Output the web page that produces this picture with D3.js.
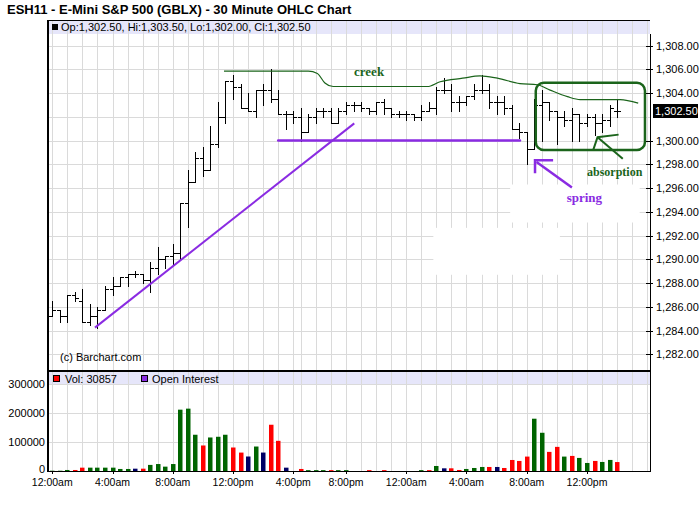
<!DOCTYPE html>
<html>
<head>
<meta charset="utf-8">
<script src="https://cdn.jsdelivr.net/npm/d3@7"></script>
<style>
  body { margin: 0; background: #fff; }
  svg { display: block; font-family: Arial, "Liberation Sans", sans-serif; }
</style>
</head>
<body>
<div class="container"></div>
<script>
// 30 minute OHLC bars
var opens = [1285.25, 1285.75, 1285.25, 1287.00, 1286.50, 1284.75, 1285.25, 1285.75, 1287.50, 1287.75,
    1288.50, 1288.75, 1288.75, 1288.25, 1289.25, 1290.00, 1290.25, 1290.50, 1294.75, 1296.50,
    1298.50, 1297.50, 1299.75, 1302.00, 1305.00, 1304.50, 1302.75, 1302.50, 1304.25, 1304.25,
    1303.50, 1302.25, 1302.25, 1302.00, 1300.75, 1302.00, 1302.50, 1302.50, 1301.50, 1302.50,
    1303.00, 1303.00, 1302.75, 1302.50, 1303.25, 1302.75, 1302.25, 1302.25, 1302.25, 1302.00,
    1302.50, 1302.75, 1304.25, 1304.25, 1303.25, 1303.25, 1303.75, 1304.25, 1304.25, 1303.25,
    1303.25, 1302.75, 1301.00, 1300.75, 1299.25, 1303.00, 1303.25, 1302.50, 1302.00, 1301.75,
    1302.25, 1301.50, 1302.00, 1301.50, 1301.75, 1302.50];
var highs = [1286.50, 1285.75, 1287.00, 1287.25, 1287.50, 1286.25, 1286.00, 1287.75, 1288.50, 1288.50,
    1288.75, 1289.00, 1288.75, 1289.75, 1291.00, 1290.25, 1291.25, 1294.75, 1297.50, 1299.00,
    1299.50, 1301.25, 1303.25, 1305.00, 1305.50, 1304.75, 1304.00, 1304.25, 1304.75, 1306.00,
    1304.25, 1302.50, 1302.50, 1302.75, 1302.25, 1302.75, 1302.75, 1302.75, 1302.75, 1303.25,
    1303.25, 1303.25, 1302.75, 1303.25, 1303.50, 1302.75, 1302.50, 1302.50, 1302.25, 1303.00,
    1303.25, 1304.50, 1305.25, 1304.75, 1303.75, 1303.75, 1304.75, 1305.50, 1304.75, 1303.75,
    1303.75, 1303.00, 1301.50, 1300.75, 1303.50, 1304.25, 1303.25, 1302.50, 1302.50, 1302.75,
    1302.25, 1302.25, 1302.25, 1302.25, 1303.00, 1303.50];
var lows = [1285.25, 1284.75, 1284.75, 1286.50, 1284.75, 1284.50, 1284.25, 1285.75, 1287.00, 1287.75,
    1287.75, 1288.50, 1288.00, 1287.25, 1288.75, 1289.25, 1289.50, 1290.00, 1292.75, 1296.50,
    1297.00, 1297.50, 1299.50, 1301.50, 1303.50, 1302.75, 1302.50, 1302.00, 1303.00, 1303.25,
    1302.25, 1301.00, 1301.50, 1300.00, 1300.75, 1301.50, 1302.00, 1301.50, 1301.50, 1302.25,
    1302.50, 1302.50, 1302.25, 1302.25, 1302.25, 1302.00, 1302.00, 1301.75, 1301.75, 1301.75,
    1302.50, 1302.25, 1304.00, 1302.50, 1302.50, 1303.00, 1303.50, 1304.00, 1302.75, 1302.25,
    1302.25, 1301.00, 1300.25, 1298.00, 1299.25, 1300.00, 1301.75, 1299.75, 1301.25, 1300.00,
    1300.00, 1301.25, 1300.50, 1300.75, 1301.25, 1302.00];
var closes = [1285.75, 1285.25, 1287.00, 1286.75, 1284.75, 1285.25, 1285.75, 1287.50, 1287.75, 1288.50,
    1288.75, 1288.75, 1288.25, 1289.25, 1290.00, 1290.25, 1290.50, 1294.75, 1296.50, 1298.50,
    1297.50, 1299.75, 1302.00, 1305.00, 1304.50, 1302.75, 1302.50, 1304.25, 1304.25, 1303.50,
    1302.25, 1302.25, 1302.00, 1300.75, 1302.00, 1302.50, 1302.50, 1301.50, 1302.50, 1303.00,
    1303.00, 1302.75, 1302.50, 1303.25, 1302.75, 1302.25, 1302.25, 1302.25, 1302.00, 1302.50,
    1302.75, 1304.25, 1304.25, 1303.25, 1303.25, 1303.75, 1304.25, 1304.25, 1303.25, 1303.25,
    1302.75, 1301.00, 1300.75, 1299.25, 1303.00, 1303.25, 1302.50, 1302.00, 1301.75, 1302.25,
    1301.50, 1302.00, 1301.50, 1301.75, 1302.75, 1302.50];

var volumes = [1000, 1000, 3500, 3500, 11500, 11500, 11500, 11500, 11500, 7000,
    7000, 8000, 8000, 21000, 24000, 15000, 24000, 211500, 215000, 125000,
    88000, 115600, 118000, 125000, 81000, 63500, 50000, 84400, 63600, 159500,
    104000, 11500, 0, 7000, 3000, 3000, 3000, 3000, 3000, 3000,
    0, 0, 3000, 0, 3000, 0, 0, 0, 0, 3000,
    3000, 17300, 9250, 9250, 3500, 7000, 10400, 13900, 13900, 13900,
    10400, 38000, 34700, 49700, 180300, 131800, 65900, 83200, 49700, 52000,
    45100, 27700, 34700, 31200, 38150, 30857];
// u = up (green), d = down (red), n = unchanged (navy)
var volumeDirs = ['u', 'u', 'u', 'd', 'd', 'u', 'u', 'u', 'u', 'u',
    'u', 'n', 'd', 'u', 'u', 'u', 'u', 'u', 'u', 'u',
    'd', 'u', 'u', 'u', 'd', 'd', 'n', 'u', 'n', 'd',
    'd', 'n', 'n', 'd', 'u', 'u', 'u', 'd', 'u', 'u',
    'u', 'u', 'd', 'u', 'd', 'u', 'u', 'u', 'u', 'u',
    'd', 'u', 'n', 'd', 'd', 'u', 'u', 'u', 'd', 'n',
    'd', 'd', 'd', 'd', 'u', 'u', 'd', 'd', 'u', 'd',
    'u', 'u', 'd', 'u', 'u', 'd'];

var priceTicks = [1282, 1284, 1286, 1288, 1290, 1292, 1294, 1296, 1298, 1300, 1302, 1304, 1306, 1308];
var volumeTicks = [0, 100000, 200000, 300000];
var timeTickLabels = ['12:00am', '4:00am', '8:00am', '12:00pm', '4:00pm', '8:00pm',
    '12:00am', '4:00am', '8:00am', '12:00pm'];
var lastBar = ['Op:1,302.50', 'Hi:1,303.50', 'Lo:1,302.00', 'Cl:1,302.50'];
var lastPrice = 1302.50;
var lastVolume = 30857;

// hand drawn notes, in [bar index, price]
var creekLine = [[22.8, 1305.85], [34.0, 1305.85], [35.2, 1305.65], [36.2, 1304.85], [37.3, 1304.55],
    [49.8, 1304.55], [51.5, 1304.95], [54.5, 1305.25], [56.8, 1305.45], [59.1, 1305.25],
    [62.1, 1304.8], [64.4, 1304.7], [66.1, 1304.25], [68.4, 1303.7], [70.1, 1303.45],
    [75.4, 1303.45], [77.8, 1303.15]];
var trendLine = [[5.67, 1284.25], [40.1, 1301.45]];
var supportLine = [[30.0, 1300.0], [62.1, 1300.0]];
var springHead = [[64.1, 1297.25], [64.1, 1298.35], [66.5, 1298.35]];
var springShaft = [[64.3, 1298.2], [69.0, 1296.05]];
var absorbHead = [[71.8, 1299.15], [72.4, 1300.28], [75.2, 1300.5]];
var absorbShaft = [[72.4, 1300.28], [75.75, 1298.47]];
var rangeBox = [[64.2, 1304.87], [78.7, 1299.2]];
var erased = [[[60.8, 1296.3], [78.0, 1293.1]], [[50.6, 1292.65], [67.4, 1288.7]]];
var notes = [
    { text: 'creek', at: [40.07, 1305.44], kind: 'green', size: 13 },
    { text: 'absorption', at: [71.0, 1297.04], kind: 'green', size: 12 },
    { text: 'spring', at: [68.3, 1294.83], kind: 'purple', size: 13 }
];

// 30 minute slots, the 4:30pm slot is not traded
function buildSlots(n) {
    var slots = [];
    var minutes = 0;
    while (slots.length < n) {
        var h = Math.floor(minutes / 60) % 24;
        var m = minutes % 60;
        if (!(h === 16 && m === 30)) {
            var h12 = h % 12 === 0 ? 12 : h % 12;
            slots.push({ label: h12 + ':' + (m === 0 ? '00' : '30') + (h < 12 ? 'am' : 'pm'), onHour: m === 0 });
        }
        minutes += 30;
    }
    return slots;
}

var drawChart = function () {
    const LEFT = 48, RIGHT = 650;
    const P_TOP = 20, P_BOTTOM = 371;
    const V_TOP = 371, V_BOTTOM = 471;
    const GREEN = '#1b641b', PURPLE = '#8a2be2';
    const GRID = '#dadada', BAND = '#e6e6fa';

    var slots = buildSlots(80);
    var tickIdx = [];
    var from = 0;
    timeTickLabels.forEach(function (lab) {
        while (slots[from].label !== lab) from++;
        tickIdx.push(from);
        from++;
    });

    var x = d3.scaleLinear().domain([-0.5, slots.length - 0.5]).range([48.5, 651]);
    var yP = d3.scaleLinear().domain([1280.6, 1310.15]).range([P_BOTTOM, P_TOP]);
    var yV = d3.scaleLinear().domain([0, 344800]).range([V_BOTTOM, V_TOP]);
    var sx = function (i) { return Math.round(x(i)) + 0.5; };
    var sy = function (v) { return Math.round(yP(v)) + 0.5; };
    var pt = function (d) { return [x(d[0]), yP(d[1])]; };
    var fmtPrice = d3.format(',.2f');

    var svg = d3.select('.container')
        .append('svg')
        .attr('width', 700)
        .attr('height', 512);

    svg.append('text')
        .attr('x', 7)
        .attr('y', 14)
        .style('font-size', '13px')
        .style('font-weight', 'bold')
        .text('ESH11 - E-Mini S&P 500 (GBLX) - 30 Minute OHLC Chart');

    // legend bands
    svg.append('rect').attr('x', LEFT).attr('y', P_TOP).attr('width', RIGHT - LEFT).attr('height', 14).style('fill', BAND);
    svg.append('rect').attr('x', LEFT).attr('y', V_TOP + 1).attr('width', RIGHT - LEFT).attr('height', 12).style('fill', BAND);

    // grid
    var grid = svg.append('g').style('stroke', GRID).style('stroke-width', 1).style('shape-rendering', 'crispEdges');
    grid.selectAll('line.v')
        .data(d3.range(slots.length).filter(function (i) { return slots[i].onHour; }))
        .join('line')
        .attr('x1', sx).attr('x2', sx)
        .attr('y1', P_TOP).attr('y2', V_BOTTOM);
    grid.selectAll('line.hp')
        .data(priceTicks)
        .join('line')
        .attr('x1', LEFT).attr('x2', RIGHT)
        .attr('y1', sy).attr('y2', sy);
    grid.selectAll('line.hv')
        .data(volumeTicks.slice(1))
        .join('line')
        .attr('x1', LEFT).attr('x2', RIGHT)
        .attr('y1', function (d) { return Math.round(yV(d)) + 0.5; })
        .attr('y2', function (d) { return Math.round(yV(d)) + 0.5; });

    // patches where the grid was painted over
    svg.append('g').selectAll('rect')
        .data(erased)
        .join('rect')
        .attr('x', function (d) { return x(d[0][0]); })
        .attr('y', function (d) { return yP(d[0][1]); })
        .attr('width', function (d) { return x(d[1][0]) - x(d[0][0]); })
        .attr('height', function (d) { return yP(d[1][1]) - yP(d[0][1]); })
        .style('fill', '#fff');

    // frame
    var frame = svg.append('g').style('stroke', '#000').style('shape-rendering', 'crispEdges');
    frame.append('line').attr('x1', LEFT).attr('x2', RIGHT).attr('y1', P_TOP + 0.5).attr('y2', P_TOP + 0.5).style('stroke-width', 1);
    frame.append('line').attr('x1', LEFT).attr('x2', LEFT).attr('y1', P_TOP).attr('y2', V_BOTTOM + 1).style('stroke-width', 2);
    frame.append('line').attr('x1', RIGHT + 0.5).attr('x2', RIGHT + 0.5).attr('y1', P_TOP + 14).attr('y2', V_BOTTOM).style('stroke-width', 1);
    frame.append('line').attr('x1', LEFT).attr('x2', RIGHT + 1).attr('y1', V_TOP).attr('y2', V_TOP).style('stroke-width', 2);
    frame.append('line').attr('x1', LEFT).attr('x2', RIGHT + 1).attr('y1', V_BOTTOM + 0.5).attr('y2', V_BOTTOM + 0.5).style('stroke-width', 1);

    // OHLC bars
    var bars = svg.append('g')
        .style('stroke', '#000')
        .style('stroke-width', 1)
        .style('shape-rendering', 'crispEdges')
        .selectAll('g')
        .data(d3.range(opens.length))
        .join('g');
    bars.append('line')
        .attr('x1', sx).attr('x2', sx)
        .attr('y1', function (i) { return Math.round(yP(highs[i])); })
        .attr('y2', function (i) { return Math.round(yP(lows[i])) + 1; });
    bars.append('line')
        .attr('x1', function (i) { return sx(i) - 3.5; }).attr('x2', sx)
        .attr('y1', function (i) { return sy(opens[i]); })
        .attr('y2', function (i) { return sy(opens[i]); });
    bars.append('line')
        .attr('x1', sx).attr('x2', function (i) { return sx(i) + 3.5; })
        .attr('y1', function (i) { return sy(closes[i]); })
        .attr('y2', function (i) { return sy(closes[i]); });

    // volume bars
    var volColor = { u: '#006400', d: '#ff0000', n: '#000066' };
    svg.append('g').selectAll('rect')
        .data(d3.range(volumes.length))
        .join('rect')
        .attr('x', function (i) { return Math.round(x(i)) - 2; })
        .attr('width', 4.5)
        .attr('y', function (i) { return yV(volumes[i]); })
        .attr('height', function (i) { return V_BOTTOM - yV(volumes[i]); })
        .style('fill', function (i) { return volColor[volumeDirs[i]]; });

    // notes
    var line = d3.line().x(function (d) { return pt(d)[0]; }).y(function (d) { return pt(d)[1]; });
    svg.append('path')
        .attr('d', line.curve(d3.curveMonotoneX)(creekLine))
        .style('fill', 'none').style('stroke', GREEN).style('stroke-width', 1.2);
    line.curve(d3.curveLinear);
    svg.append('path')
        .attr('d', line(trendLine))
        .style('fill', 'none').style('stroke', PURPLE).style('stroke-width', 2);
    svg.append('path')
        .attr('d', line(supportLine))
        .style('fill', 'none').style('stroke', PURPLE).style('stroke-width', 2.5).style('stroke-linecap', 'round');
    [springHead, springShaft].forEach(function (d) {
        svg.append('path').attr('d', line(d))
            .style('fill', 'none').style('stroke', PURPLE).style('stroke-width', 2.5);
    });
    [absorbHead, absorbShaft].forEach(function (d) {
        svg.append('path').attr('d', line(d))
            .style('fill', 'none').style('stroke', GREEN).style('stroke-width', 2);
    });
    svg.append('rect')
        .attr('x', x(rangeBox[0][0]))
        .attr('y', yP(rangeBox[0][1]))
        .attr('width', x(rangeBox[1][0]) - x(rangeBox[0][0]))
        .attr('height', yP(rangeBox[1][1]) - yP(rangeBox[0][1]))
        .attr('rx', 8)
        .style('fill', 'none').style('stroke', GREEN).style('stroke-width', 2.5);
    svg.append('g').selectAll('text')
        .data(notes)
        .join('text')
        .attr('x', function (d) { return x(d.at[0]); })
        .attr('y', function (d) { return yP(d.at[1]); })
        .style('font-family', '"Liberation Serif", "DejaVu Serif", serif')
        .style('font-weight', 'bold')
        .style('font-size', function (d) { return d.size + 'px'; })
        .style('fill', function (d) { return d.kind === 'green' ? GREEN : PURPLE; })
        .text(function (d) { return d.text; });

    // price axis (right)
    var pAxis = svg.append('g').style('font-size', '11px');
    var shown = priceTicks.filter(function (d) { return Math.abs(d - lastPrice) > 1; });
    pAxis.selectAll('line')
        .data(shown)
        .join('line')
        .attr('x1', RIGHT - 4).attr('x2', RIGHT + 3)
        .attr('y1', sy).attr('y2', sy)
        .style('stroke', '#000').style('shape-rendering', 'crispEdges');
    pAxis.selectAll('text')
        .data(shown)
        .join('text')
        .attr('x', RIGHT + 6)
        .attr('y', function (d) { return yP(d) + 4; })
        .text(fmtPrice);
    pAxis.append('rect')
        .attr('x', RIGHT + 3).attr('y', Math.round(yP(lastPrice)) - 7)
        .attr('width', 45).attr('height', 14)
        .style('fill', '#000');
    pAxis.append('text')
        .attr('x', RIGHT + 5).attr('y', yP(lastPrice) + 4)
        .style('fill', '#fff')
        .text(fmtPrice(lastPrice));

    // volume axis (left)
    svg.append('g').style('font-size', '11px')
        .selectAll('text')
        .data(volumeTicks)
        .join('text')
        .attr('x', LEFT - 3)
        .attr('y', function (d) { return yV(d) + (d === 0 ? 2 : 4); })
        .attr('text-anchor', 'end')
        .text(d3.format('d'));

    // time axis
    var tAxis = svg.append('g').style('font-size', '10.5px');
    tAxis.selectAll('line')
        .data(tickIdx)
        .join('line')
        .attr('x1', sx).attr('x2', sx)
        .attr('y1', V_BOTTOM).attr('y2', V_BOTTOM + 3)
        .style('stroke', '#000').style('shape-rendering', 'crispEdges');
    tAxis.selectAll('text')
        .data(tickIdx)
        .join('text')
        .attr('x', x)
        .attr('y', V_BOTTOM + 15)
        .attr('text-anchor', 'middle')
        .text(function (i, k) { return timeTickLabels[k]; });

    // legends
    var leg = svg.append('g').style('font-size', '11px');
    leg.append('rect').attr('x', 52).attr('y', P_TOP + 4).attr('width', 6).attr('height', 6).style('fill', '#000');
    leg.append('text').attr('x', 61).attr('y', P_TOP + 11).text(lastBar.join(', '));
    leg.append('rect').attr('x', 53.5).attr('y', V_TOP + 4.5).attr('width', 6).attr('height', 6)
        .style('fill', '#ff0000').style('stroke', '#000');
    leg.append('text').attr('x', 65).attr('y', V_TOP + 12).text('Vol: ' + lastVolume);
    leg.append('rect').attr('x', 141.5).attr('y', V_TOP + 4.5).attr('width', 6).attr('height', 6)
        .style('fill', '#8a2be2').style('stroke', '#000');
    leg.append('text').attr('x', 152).attr('y', V_TOP + 12).text('Open Interest');
    svg.append('text').attr('x', 60).attr('y', P_BOTTOM - 10).style('font-size', '11px').text('(c) Barchart.com');
};
window.onload = drawChart;
</script>
</body>
</html>
